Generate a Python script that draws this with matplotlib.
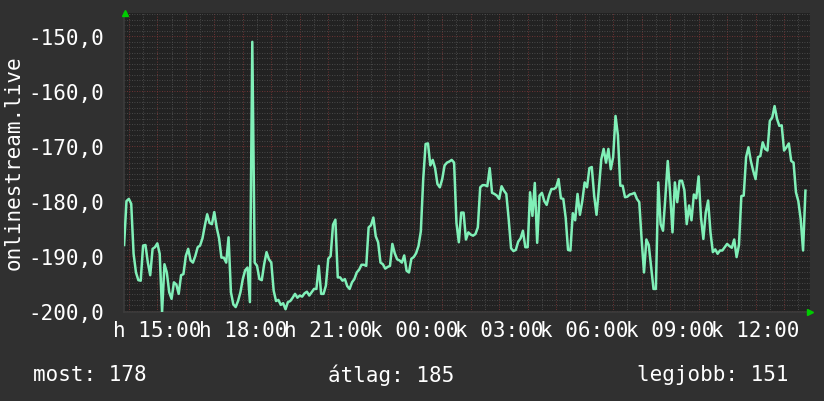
import numpy as np
import matplotlib
matplotlib.use('Agg')
import matplotlib.pyplot as plt


## 5 minute samples, first one at 13:50 (hours counted from midnight of day one)
start_hour = 13 + 50 / 60
step_hour = 5 / 60
values = [
    -188.0, -180.0,
    -179.6, -180.5, -189.6, -193.0, -194.4, -194.5, -188.1, -188.0, -191.2, -193.5, -188.7, -188.4,  # 14h
    -187.7, -189.6, -200.2, -191.5, -193.0, -196.6, -197.8, -194.8, -195.2, -196.9, -193.5, -193.3,  # 15h
    -190.0, -188.7, -190.8, -191.2, -190.0, -188.4, -188.1, -186.8, -184.5, -182.4, -184.0, -184.2,  # 16h
    -182.0, -184.8, -186.8, -190.3, -190.3, -191.2, -186.6, -196.6, -198.8, -199.3, -198.2, -196.6,  # 17h
    -194.2, -192.6, -192.1, -198.4, -151.0, -191.2, -191.8, -194.2, -194.4, -191.5, -189.3, -190.6,  # 18h
    -191.2, -196.3, -198.2, -198.0, -198.9, -198.6, -199.7, -198.4, -198.2, -197.6, -196.9, -197.6,  # 19h
    -197.2, -197.4, -196.8, -196.5, -197.2, -196.6, -196.0, -196.0, -191.8, -196.9, -196.9, -195.4,  # 20h
    -190.5, -190.0, -184.3, -183.4, -193.9, -193.9, -194.5, -194.2, -195.5, -196.0, -194.8, -194.2,  # 21h
    -193.0, -192.5, -191.6, -191.6, -191.8, -184.8, -184.4, -183.0, -186.4, -187.5, -191.2, -191.5,  # 22h
    -192.3, -192.0, -191.8, -187.8, -189.5, -190.6, -190.8, -191.2, -189.9, -192.7, -193.0, -190.5,  # 23h
    -190.2, -189.5, -188.2, -185.5, -176.0, -169.6, -169.5, -173.5, -172.5, -174.0, -176.9, -177.5,  # 00h
    -176.0, -173.5, -173.0, -172.8, -172.5, -173.0, -184.0, -187.5, -182.1, -182.1, -187.0, -185.7,  # 01h
    -186.1, -186.3, -186.0, -184.8, -177.5, -177.1, -177.1, -177.3, -174.0, -178.5, -178.7, -179.0,  # 02h
    -179.6, -177.3, -178.1, -178.7, -183.3, -188.6, -189.1, -188.9, -187.4, -186.8, -185.4, -188.4,  # 03h
    -188.4, -178.4, -182.7, -176.7, -187.6, -179.0, -178.5, -180.0, -180.7, -179.0, -177.8, -177.8,  # 04h
    -177.5, -176.0, -179.5, -179.6, -183.0, -188.9, -189.0, -182.2, -183.5, -178.7, -182.5, -180.0,  # 05h
    -176.6, -177.5, -174.0, -173.8, -179.0, -182.5, -177.7, -172.4, -170.5, -173.0, -170.5, -174.2,  # 06h
    -172.0, -164.5, -168.0, -177.2, -177.2, -179.3, -179.2, -178.8, -178.7, -178.5, -179.6, -180.2,  # 07h
    -187.0, -193.0, -187.0, -188.0, -192.0, -196.0, -196.0, -176.6, -184.2, -185.4, -179.3, -172.7,  # 08h
    -178.5, -185.7, -176.6, -180.2, -176.3, -176.3, -178.0, -184.2, -180.8, -183.5, -178.8, -179.5,  # 09h
    -175.5, -183.0, -186.9, -182.1, -179.9, -185.7, -189.3, -188.8, -189.6, -189.0, -189.0, -188.4,  # 10h
    -187.8, -188.2, -188.5, -187.0, -190.2, -188.0, -179.1, -179.0, -172.0, -170.2, -172.7, -174.5,  # 11h
    -176.0, -172.0, -171.8, -169.3, -170.5, -170.8, -165.4, -164.8, -162.7, -165.0, -166.3, -166.2,  # 12h
    -170.8, -170.2, -169.5, -172.7, -173.0, -178.4, -180.0, -183.3, -189.0, -178.1,                  # 13h
]

xtick_hours = [15, 18, 21, 24, 27, 30, 33, 36]
xtick_labels = ['h 15:00', 'h 18:00', 'h 21:00', 'k 00:00', 'k 03:00', 'k 06:00', 'k 09:00', 'k 12:00']
ytick_values = [-150, -160, -170, -180, -190, -200]
ytick_labels = ['-150,0', '-160,0', '-170,0', '-180,0', '-190,0', '-200,0']
ylabel = 'onlinestream.live'
legend_texts = ['most: 178', 'átlag: 185', 'legjobb: 151']

## colours
bg_outer = '#303030'
bg_plot = '#222222'
line_col = '#80f0b8'
grid_minor = '#555555'
grid_major = '#883838'
font = 'DejaVu Sans Mono'

times = start_hour + step_hour * np.arange(len(values))

fig = plt.figure(figsize=(8.24, 4.02), dpi=100, facecolor=bg_outer)
ax = fig.add_axes([124 / 824, 1 - 313 / 402, (810 - 124) / 824, (313 - 14) / 402])
ax.set_facecolor(bg_plot)
ax.set_xlim(13.83, 37.91)
ax.set_ylim(-200.2, -145.75)

## dotted grid, grey every half hour / unit, red every hour / 10 units
dot = (0, (1, 2))
for h in np.arange(14, 38, 0.5):
    ax.axvline(h, color=grid_major if h % 1 == 0 else grid_minor, lw=0.6, ls=dot, zorder=1)
for v in range(-200, -145):
    ax.axhline(v, color=grid_major if v % 10 == 0 else grid_minor, lw=0.6, ls=dot, zorder=1)

ax.plot(times, values, color=line_col, lw=1.8, zorder=3)

ax.set_xticks(xtick_hours)
ax.set_xticklabels(xtick_labels)
ax.set_yticks(ytick_values)
ax.set_yticklabels(ytick_labels)
ax.tick_params(axis='both', length=0, colors='white', labelsize=15)
ax.tick_params(axis='x', pad=6)
ax.tick_params(axis='y', pad=14)
for lab in ax.get_xticklabels() + ax.get_yticklabels():
    lab.set_fontfamily(font)

for s in ['top', 'right']:
    ax.spines[s].set_visible(False)
for s in ['left', 'bottom']:
    ax.spines[s].set_color('#3c3c3c')
    ax.spines[s].set_linewidth(1.2)

## rrdtool style arrows
ax.plot([13.88], [-145.75], marker='^', color='#00cc00', ms=5, clip_on=False, zorder=5)
ax.plot([37.91], [-200.2], marker='>', color='#00cc00', ms=5, clip_on=False, zorder=5)

fig.text(14 / 824, 1 - 163 / 402, ylabel, rotation=90, ha='center', va='center',
         color='white', fontsize=15, family=font)

for x, t in zip([33, 328, 637], legend_texts):
    fig.text(x / 824, 1 - 375 / 402, t, ha='left', va='center',
             color='white', fontsize=15, family=font)

plt.savefig('out.png', dpi=100, facecolor=bg_outer)
